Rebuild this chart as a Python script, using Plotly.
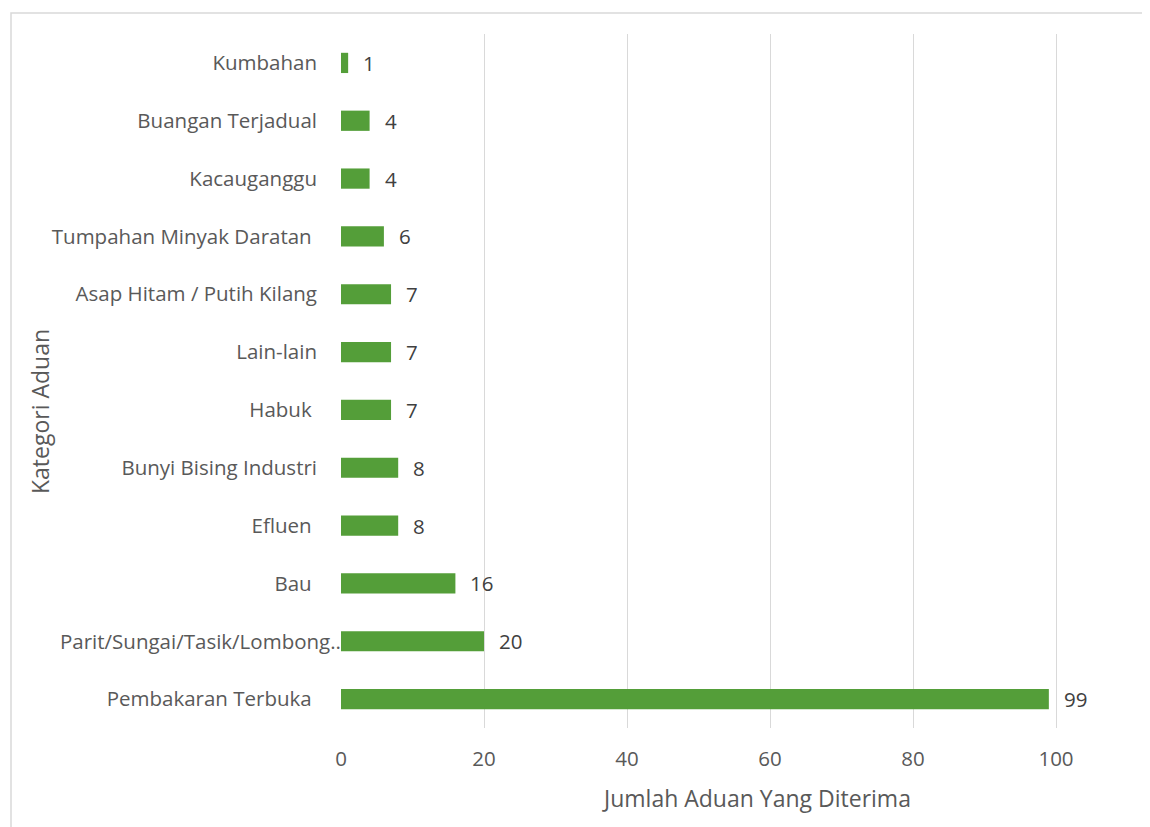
import plotly.graph_objects as go

categories = [
    "Pembakaran Terbuka\u00a0",
    "Parit/Sungai/Tasik/Lombong..",
    "Bau\u00a0",
    "Efluen\u00a0",
    "Bunyi Bising Industri",
    "Habuk\u00a0",
    "Lain-lain",
    "Asap Hitam / Putih Kilang",
    "Tumpahan Minyak Daratan\u00a0",
    "Kacauganggu",
    "Buangan Terjadual",
    "Kumbahan",
]
values = [99, 20, 16, 8, 8, 7, 7, 7, 6, 4, 4, 1]
x_ticks = [0, 20, 40, 60, 80, 100]
overflow_label = "Parit/Sungai/Tasik/Lombong.."

OFF = 8  # default page body margin
W, H = 1150 - OFF, 827 - OFF
ML, MR, MT, MB = 341 - OFF, 0, 34 - OFF, H - (728 - OFF)
FONT = "Open Sans"
BAR = "#549E39"
TXT = "#595959"

fig = go.Figure()
fig.add_trace(go.Bar(
    x=values, y=categories, orientation="h",
    marker=dict(color=BAR, line=dict(width=0)),
    width=0.35, hoverinfo="x+y",
))

for v, c in zip(values, categories):
    fig.add_annotation(x=v, y=c, xref="x", yref="y", text=str(v),
                       showarrow=False, xanchor="left", yanchor="middle", xshift=13,
                       font=dict(family=FONT, size=20.5, color="#404040"))

# long label that overflows into the plot area (as in the original)
fig.add_annotation(x=0, y=overflow_label, xref="x", yref="y", text=overflow_label,
                   showarrow=False, xanchor="right", yanchor="middle", xshift=2,
                   font=dict(family=FONT, size=20.5, color=TXT))

pw = W - ML - MR
ph = H - MT - MB
def px(p):
    return (p - OFF - ML) / pw
def py(p):
    return (H - MB - (p - OFF)) / ph

# outer chart border
fig.add_shape(type="rect", xref="paper", yref="paper",
              x0=px(11), x1=px(1200), y0=py(13), y1=py(900),
              line=dict(color="#D9D9D9", width=1.5), fillcolor="rgba(0,0,0,0)", layer="below")

# axis titles
fig.add_annotation(xref="paper", yref="paper", x=px(756), y=py(798),
                   xanchor="center", yanchor="middle",
                   text="Jumlah Aduan Yang Diterima", showarrow=False,
                   font=dict(family=FONT, size=23, color=TXT))
fig.add_annotation(xref="paper", yref="paper", x=px(40), y=py(412),
                   xanchor="center", yanchor="middle",
                   text="Kategori Aduan", showarrow=False, textangle=-90,
                   font=dict(family=FONT, size=23, color=TXT))

tick_text = ["" if c == overflow_label else c for c in categories]

fig.update_layout(
    width=W, height=H,
    margin=dict(l=ML, r=MR, t=MT, b=MB),
    paper_bgcolor="white", plot_bgcolor="white",
    showlegend=False,
    font=dict(family=FONT, color=TXT, size=20.5),
    xaxis=dict(range=[0, (W - MR - ML) / 7.15], tickvals=x_ticks,
               showgrid=True, gridcolor="#D9D9D9", gridwidth=1.3,
               zeroline=False, showline=False, ticks="",
               ticklabelstandoff=16,
               tickfont=dict(family=FONT, size=20.5, color=TXT)),
    yaxis=dict(categoryorder="array", categoryarray=categories,
               tickvals=categories, ticktext=tick_text,
               showgrid=False, zeroline=False, showline=False, ticks="",
               ticklabelstandoff=23,
               tickfont=dict(family=FONT, size=20.5, color=TXT)),
)

fig.write_html("out.html")
